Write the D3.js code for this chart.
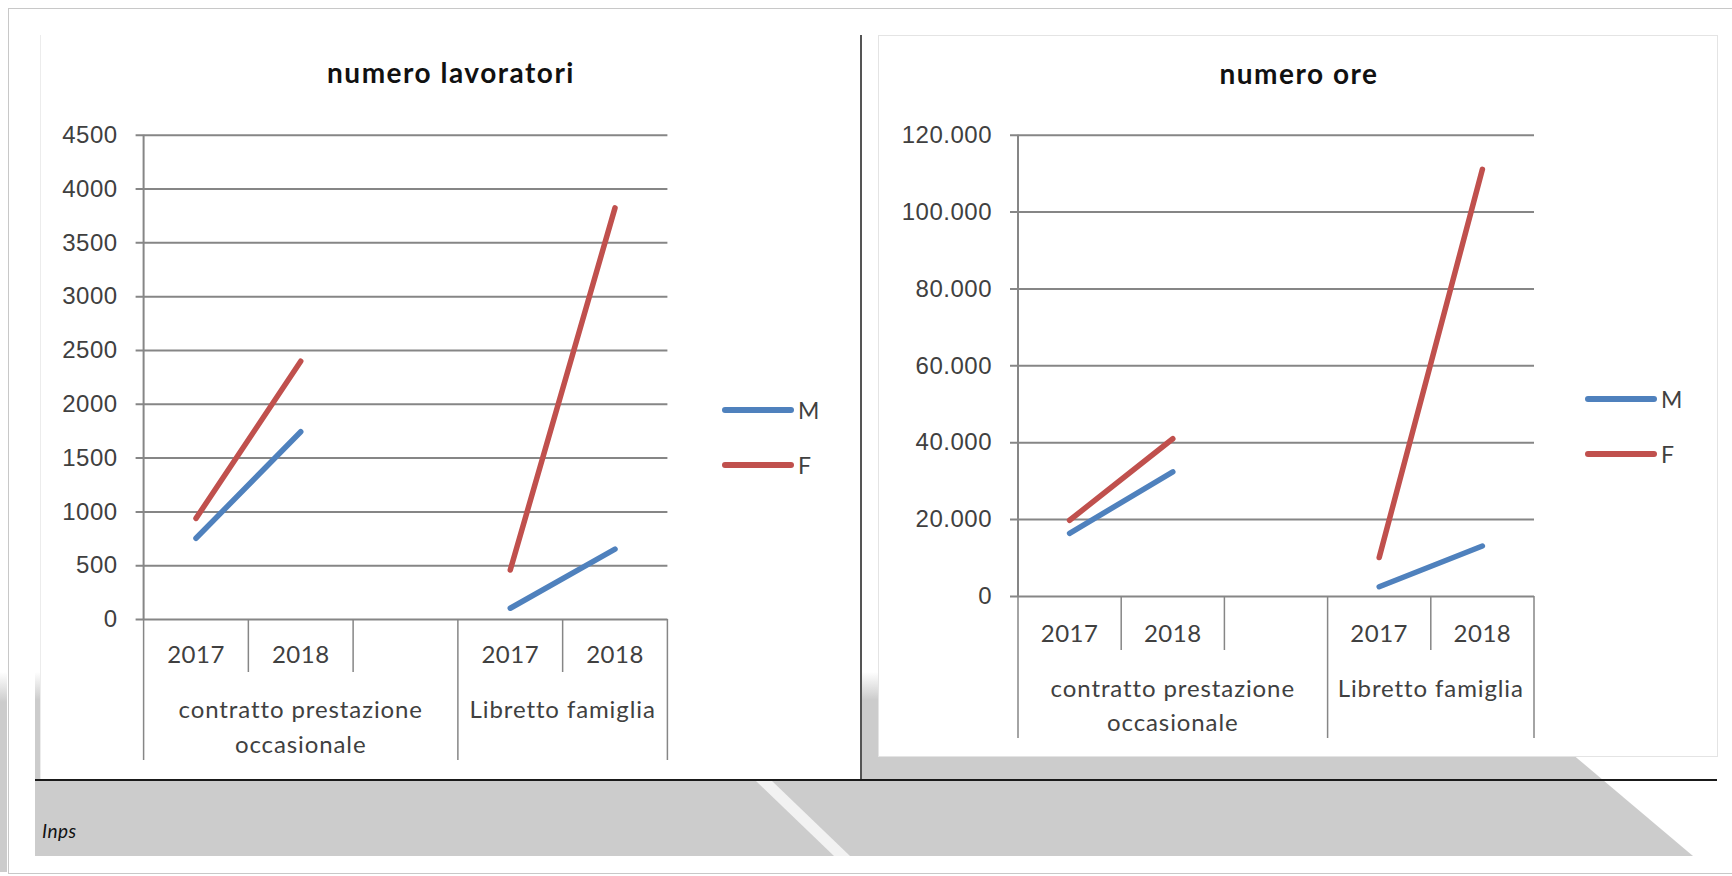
<!DOCTYPE html>
<html>
<head>
<meta charset="utf-8">
<script src="https://cdn.jsdelivr.net/npm/d3@7"></script>
<style>
  body { margin: 0; background: #fff; }
  svg { display: block; font-family: Lato, "Open Sans", sans-serif; }
</style>
</head>
<body>
<div id="wrap"></div>
<script>
//  Values (Inps source)
const yearLabels = ["2017", "2018", "", "2017", "2018"];
const groupLabels = [["contratto prestazione", "occasionale"], ["Libretto famiglia"]];
const groupSpans = [[0, 3], [3, 5]];
const seriesNames = ["M", "F"];

const lavoratoriM = [750, 1740, null, 100, 650];
const lavoratoriF = [935, 2395, null, 455, 3820];
const lavoratoriTicks = [0, 500, 1000, 1500, 2000, 2500, 3000, 3500, 4000, 4500];

const oreM = [16300, 32300, null, 2400, 13000];
const oreF = [19700, 40900, null, 10000, 111000];
const oreTicks = [0, 20000, 40000, 60000, 80000, 100000, 120000];

const colors = { M: "#4f81bd", F: "#c0504d" };
const gridColor = "#868686";
const textColor = "#404040";

//  Italian number format: 120.000
const itFormat = d3.formatLocale({
  decimal: ",",
  thousands: ".",
  grouping: [3],
  currency: ["€", ""],
}).format(",");

const W = 1732, H = 876;
const svg = d3.select("#wrap").append("svg").attr("width", W).attr("height", H);
const defs = svg.append("defs");

//  ---- page background (gray band with white stripe) ----
const fade = defs.append("linearGradient")
  .attr("id", "fade").attr("x1", 0).attr("x2", 0).attr("y1", 0).attr("y2", 1);
fade.append("stop").attr("offset", "0").attr("stop-color", "#ffffff");
fade.append("stop").attr("offset", "0.15").attr("stop-color", "#cccccc");
fade.append("stop").attr("offset", "1").attr("stop-color", "#cccccc");

svg.append("rect").attr("width", W).attr("height", H).attr("fill", "#fff");

svg.append("path")
  .attr("d", "M35,672 L1475,672 L1693,856 L35,856 Z")
  .attr("fill", "url(#fade)");
svg.append("rect")
  .attr("x", 0).attr("y", 672).attr("width", 7).attr("height", 200)
  .attr("fill", "url(#fade)");
svg.append("path")
  .attr("d", "M756,781 L772,781 L850,856 L834,856 Z")
  .attr("fill", "#f2f2f2");

svg.append("rect")
  .attr("x", 8.5).attr("y", 8.5).attr("width", W).attr("height", 865)
  .attr("fill", "none").attr("stroke", "#c8c8c8");

//  white chart panels
svg.append("rect")
  .attr("x", 40).attr("y", 35).attr("width", 820).attr("height", 745)
  .attr("fill", "#fff");
svg.append("line")
  .attr("x1", 40.5).attr("x2", 40.5).attr("y1", 35).attr("y2", 780)
  .attr("stroke", "#ececec");
svg.append("rect")
  .attr("x", 878.5).attr("y", 35.5).attr("width", 839).attr("height", 721)
  .attr("fill", "#fff").attr("stroke", "#e4e4e4");

svg.append("line")
  .attr("x1", 861).attr("x2", 861).attr("y1", 35).attr("y2", 780)
  .attr("stroke", "#555").attr("stroke-width", 2);
svg.append("line")
  .attr("x1", 35).attr("x2", 1717).attr("y1", 780).attr("y2", 780)
  .attr("stroke", "#1a1a1a").attr("stroke-width", 2);

svg.append("text")
  .attr("x", 42).attr("y", 838)
  .attr("font-size", 19).attr("font-style", "italic").attr("fill", "#111")
  .attr("letter-spacing", 0.5)
  .text("Inps");

//  ---- one Excel-like line chart ----
function drawChart(cfg) {
  const g = svg.append("g");

  const x = d3.scaleBand().domain(d3.range(yearLabels.length)).range([cfg.left, cfg.right]);
  const y = d3.scaleLinear().domain([0, d3.max(cfg.ticks)]).range([cfg.bottom, cfg.top]);

  g.append("text")
    .attr("x", cfg.titleX).attr("y", cfg.titleY)
    .attr("text-anchor", "middle").attr("dominant-baseline", "central")
    .attr("font-size", 28).attr("font-weight", "bold").attr("fill", "#111")
    .attr("letter-spacing", 1.5)
    .text(cfg.title);

  //  y axis with the gridlines
  const yAxis = g.append("g")
    .attr("transform", "translate(" + cfg.left + ",0)")
    .call(d3.axisLeft(y).tickValues(cfg.ticks).tickFormat(cfg.format)
      .tickSize(-(cfg.right - cfg.left)).tickPadding(26));
  yAxis.select(".domain").remove();
  yAxis.selectAll(".tick line")
    .attr("x1", -8).attr("stroke", gridColor).attr("stroke-width", 2);
  yAxis.selectAll(".tick text")
    .attr("font-size", 24).attr("letter-spacing", 0.5)
    .attr("fill", textColor).attr("font-family", null);
  g.append("line")
    .attr("x1", cfg.left).attr("x2", cfg.left)
    .attr("y1", y(d3.max(cfg.ticks))).attr("y2", cfg.bottom)
    .attr("stroke", gridColor).attr("stroke-width", 2);

  //  multi-level category axis
  const edges = d3.range(yearLabels.length + 1).map((i) =>
    i < yearLabels.length ? x(i) : cfg.right);
  const groupEdges = new Set([0].concat(groupSpans.map((s) => s[1])));
  g.selectAll(".div")
    .data(edges)
    .join("line")
    .attr("x1", (d) => d).attr("x2", (d) => d)
    .attr("y1", cfg.bottom)
    .attr("y2", (d, i) => (groupEdges.has(i) ? cfg.outerEnd : cfg.innerEnd))
    .attr("stroke", gridColor).attr("stroke-width", 1.5);

  g.selectAll(".year")
    .data(yearLabels)
    .join("text")
    .attr("x", (d, i) => x(i) + x.bandwidth() / 2)
    .attr("y", cfg.yearY)
    .attr("text-anchor", "middle").attr("dominant-baseline", "central")
    .attr("font-size", 24).attr("letter-spacing", 0.5).attr("fill", textColor)
    .text((d) => d);

  groupSpans.forEach((span, gi) => {
    const cx = (x(span[0]) + edges[span[1]]) / 2;
    groupLabels[gi].forEach((line, li) => {
      g.append("text")
        .attr("x", cx).attr("y", cfg.groupY + li * cfg.groupGap)
        .attr("text-anchor", "middle").attr("dominant-baseline", "central")
        .attr("font-size", 24).attr("letter-spacing", 0.9).attr("fill", textColor)
        .text(line);
    });
  });

  //  the two series
  const line = d3.line()
    .defined((d) => d != null)
    .x((d, i) => x(i) + x.bandwidth() / 2)
    .y((d) => y(d));

  cfg.series.forEach((vals, si) => {
    g.append("path")
      .datum(vals)
      .attr("d", line)
      .attr("fill", "none")
      .attr("stroke", colors[seriesNames[si]])
      .attr("stroke-width", 5.5)
      .attr("stroke-linecap", "round");
  });

  //  legend
  seriesNames.forEach((name, si) => {
    const ly = cfg.legendY + si * 55;
    g.append("line")
      .attr("x1", cfg.legendX).attr("x2", cfg.legendX + 66)
      .attr("y1", ly).attr("y2", ly)
      .attr("stroke", colors[name]).attr("stroke-width", 6)
      .attr("stroke-linecap", "round");
    g.append("text")
      .attr("x", cfg.legendX + 73).attr("y", ly)
      .attr("dominant-baseline", "central")
      .attr("font-size", 23).attr("fill", textColor)
      .text(name);
  });
}

drawChart({
  title: "numero lavoratori",
  titleX: 451, titleY: 72,
  left: 143.6, right: 667.4, top: 134.7, bottom: 619,
  ticks: lavoratoriTicks,
  format: (d) => d,
  series: [lavoratoriM, lavoratoriF],
  yearY: 653, innerEnd: 672, outerEnd: 760,
  groupY: 708, groupGap: 35,
  legendX: 725, legendY: 410,
});

drawChart({
  title: "numero ore",
  titleX: 1299, titleY: 73,
  left: 1018, right: 1534, top: 134.7, bottom: 596,
  ticks: oreTicks,
  format: itFormat,
  series: [oreM, oreF],
  yearY: 632, innerEnd: 650, outerEnd: 738,
  groupY: 687, groupGap: 34,
  legendX: 1588, legendY: 399,
});
</script>
</body>
</html>
